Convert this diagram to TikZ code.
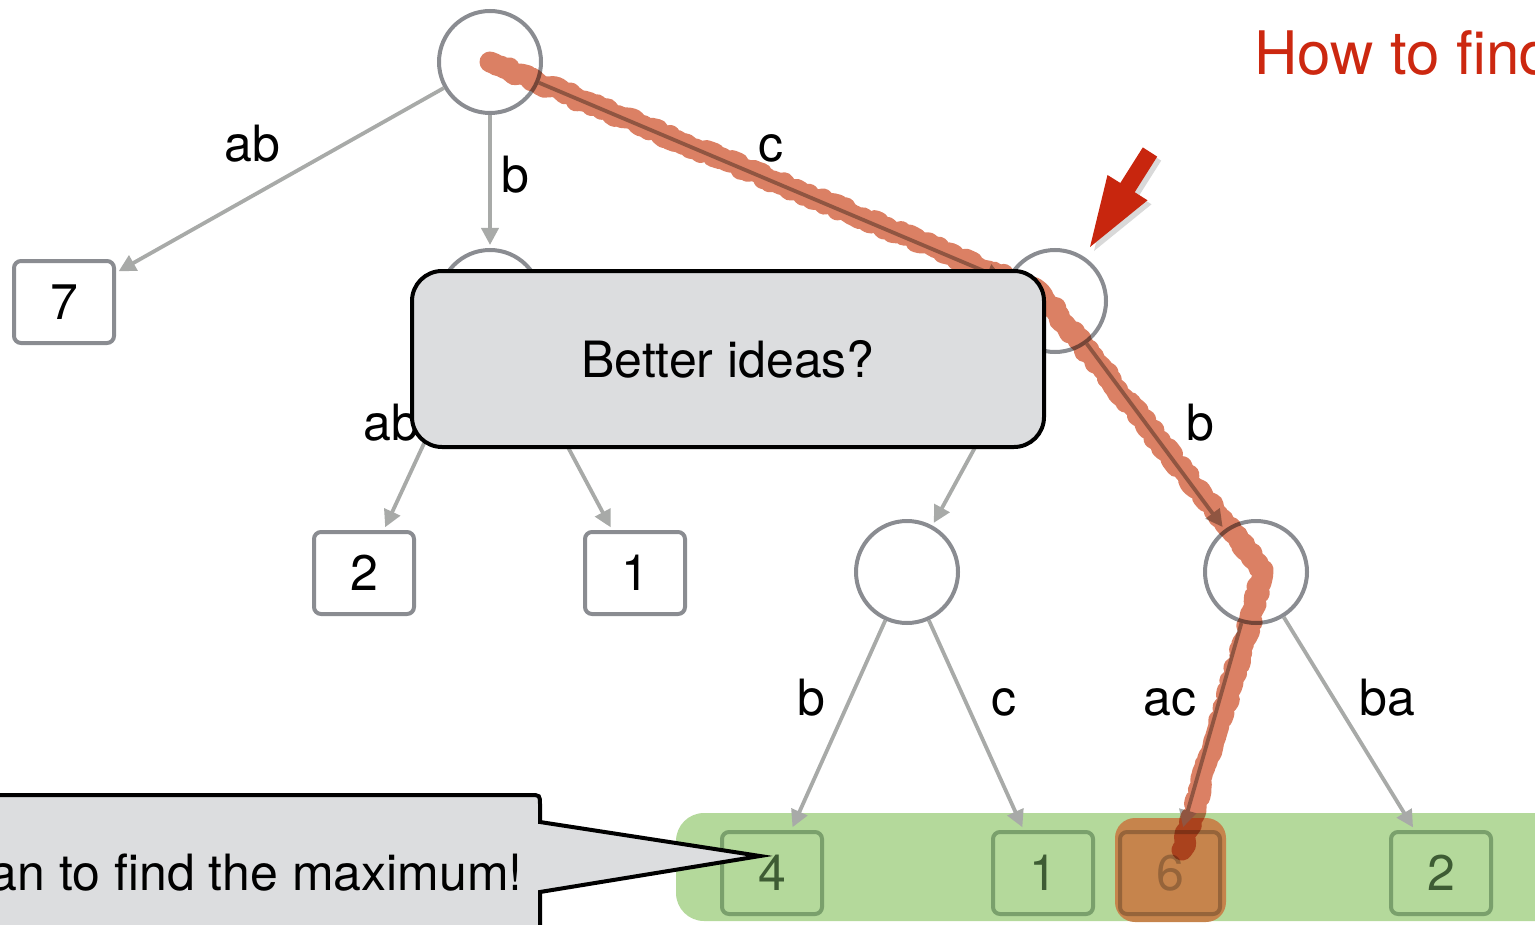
\documentclass[tikz,border=0pt]{standalone}
\usepackage{fontspec}
\setmainfont{TeX Gyre Heros}
\usetikzlibrary{arrows.meta,shadows,decorations.pathmorphing}

\definecolor{nodegray}{RGB}{138,140,145}
\definecolor{edgegray}{RGB}{168,170,168}
\definecolor{bandgreen}{RGB}{180,217,155}
\definecolor{leafgreen}{RGB}{122,160,108}
\definecolor{textgreen}{RGB}{62,92,52}
\definecolor{hlorange}{RGB}{198,132,76}
\definecolor{hlbrown}{RGB}{150,100,58}
\definecolor{scribblered}{RGB}{219,128,100}
\definecolor{boxgray}{RGB}{220,221,223}
\definecolor{titlered}{RGB}{204,40,16}
\definecolor{arrowred}{RGB}{200,38,14}

\begin{document}
\begin{tikzpicture}[x=0.5pt,y=-0.5pt,
  every node/.style={font=\fontsize{25}{30}\selectfont},
  tnode/.style={circle,draw=nodegray,line width=2pt,minimum size=51pt,inner sep=0pt,fill=white},
  leaf/.style={rectangle,rounded corners=3.5pt,draw=nodegray,line width=2pt,
               minimum width=50pt,minimum height=41pt,inner sep=0pt,fill=white},
  gleaf/.style={leaf,draw=leafgreen,fill=none,text=textgreen},
  tedge/.style={draw=edgegray,line width=1.9pt,-{Triangle[length=8.5pt,width=8.5pt]},shorten >=1.5pt},
  lbl/.style={anchor=base,inner sep=0pt},
  bubble/.style={fill=boxgray,draw=black,line width=2pt},
]
\useasboundingbox (0,0) rectangle (1535,925);

% band behind the bottom row of leaves
\fill[bandgreen,rounded corners=14pt] (676,813) rectangle (1600,921);

% inner nodes
\node[tnode] (r)   at (490,62)   {};
\node[tnode] (nb)  at (490,301)  {};
\node[tnode] (nc)  at (1055,301) {};
\node[tnode] (ncb) at (907,572)  {};
\node[tnode] (ncc) at (1256,572) {};

% leaves
\node[leaf]  (l7)  at (64,302)   {7};
\node[leaf]  (l2a) at (364,573)  {2};
\node[leaf]  (l1a) at (635,573)  {1};
\node[gleaf] (l4)  at (772,873)  {4};
\node[gleaf] (l1b) at (1043,873) {1};
\node[gleaf] (l2b) at (1441,873) {2};
\fill[hlorange,rounded corners=10pt] (1115,818) rectangle (1226,922);
\node[leaf,draw=hlbrown,fill=none,text=hlbrown] (l6) at (1170,873) {6};

% edges
\draw[tedge] (r) -- (l7);
\draw[tedge] (r) -- (nb);
\draw[tedge] (r) -- (nc);
\draw[tedge] (nb) -- (l2a);
\draw[tedge] (nb) -- (l1a);
\draw[tedge] (nc) -- (ncb);
\draw[tedge] (nc) -- (ncc);
\draw[tedge] (ncb) -- (l4);
\draw[tedge] (ncb) -- (l1b);
\draw[tedge] (ncc) -- (l6);
\draw[tedge] (ncc) -- (l2b);

% edge labels
\node[lbl] (t1) at (252,162)  {ab};
\node[lbl] (t2) at (515,193)  {b};
\node[lbl] (t3) at (771,162)  {c};
\node[lbl] (t4) at (391,440)  {ab};
\node[lbl] (t5) at (1200,440) {b};
\node[lbl] (t6) at (811,715)  {b};
\node[lbl] (t7) at (1004,715) {c};
\node[lbl] (t8) at (1170,715) {ac};
\node[lbl] (t9) at (1387,715) {ba};

% hand-drawn highlight of the path to the maximum
\draw[scribblered,line width=10.5pt,blend mode=multiply,line join=round,line cap=round,
      decorate,decoration={random steps,segment length=2pt,amplitude=1.3pt}]
  (r.center) -- (1040,292) -- (1232,532) -- (1263,570) -- (1254,608) -- (1182,850);

% red pointer arrow
\fill[arrowred,drop shadow={opacity=0.3,shadow xshift=2pt,shadow yshift=-2pt}]
  (1090,247) -- (1147.5,200.3) -- (1134.7,192.2) -- (1157.2,156.6)
  -- (1142.8,147.4) -- (1120.3,183.0) -- (1107.5,175.0) -- cycle;

% title
\node[anchor=base west,inner sep=0pt,text=titlered,font=\fontsize{30}{36}\selectfont]
  (title) at (1254,75) {How to find};

% callouts
\node[bubble,rounded corners=15pt,minimum width=316pt,minimum height=88pt]
  (ideas) at (728,359) {Better ideas?};

\coordinate (tip) at (760,856);
\filldraw[bubble,line join=miter]
  (-20,795) -- (530,795) .. controls (540,795) .. (540,805) -- (540,822)
  -- (tip) -- (540,892) -- (540,960) -- (-20,960) -- cycle;
\node[anchor=base east,inner sep=0pt] (maxtext) at (523,890) {an to find the maximum!};
\end{tikzpicture}
\end{document}
